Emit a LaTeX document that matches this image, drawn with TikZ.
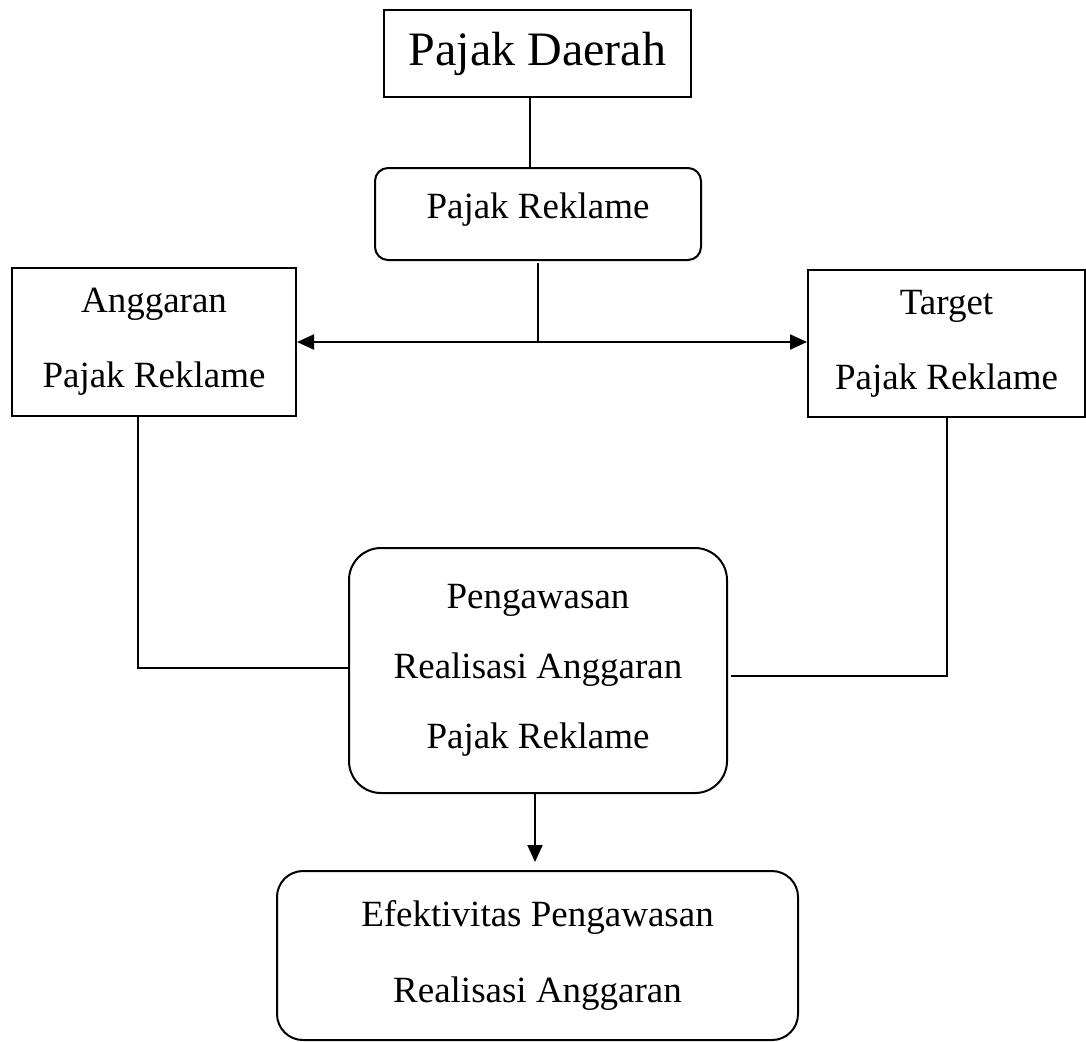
\documentclass[tikz,border=0pt]{standalone}
\usepackage{fontspec}
\setmainfont{Liberation Serif}
\usepackage{tikz}
\usetikzlibrary{arrows.meta}

\begin{document}
\begin{tikzpicture}[x=0.5pt, y=-0.5pt, line width=1pt,
	every node/.style={font=\fontsize{18.5}{37.5}\selectfont, align=center, inner sep=0pt},
	flow/.style={-{Triangle[length=8.5pt, width=7.5pt]}}]
	\useasboundingbox (0,0) rectangle (1086,1041);
	% Nodes
	\node[draw, minimum width=153.5pt, minimum height=43.5pt, font=\fontsize{24}{28}\selectfont] (daerah) at (537.5,53.5) {Pajak Daerah};
	\node[draw, rounded corners=6.5pt, minimum width=163pt, minimum height=46pt, text depth=8pt] (reklame) at (538,214) {Pajak Reklame};
	\node[draw, minimum width=142pt, minimum height=74pt] (anggaran) at (154,342) {Anggaran\\Pajak Reklame};
	\node[draw, minimum width=138.5pt, minimum height=73.5pt] (target) at (946.5,343.5) {Target\\Pajak Reklame};
	\node[draw, rounded corners=16pt, minimum width=189pt, minimum height=122.5pt, font=\fontsize{18.5}{35}\selectfont] (pengawasan) at (538,670.5) {Pengawasan\\Realisasi Anggaran\\Pajak Reklame};
	\node[draw, rounded corners=13pt, minimum width=260.5pt, minimum height=84.5pt, font=\fontsize{18.5}{38}\selectfont] (efektivitas) at (537.5,955.5) {Efektivitas Pengawasan\\Realisasi Anggaran};
	\coordinate (junction) at (reklame.south |- anggaran.east);
	
	% Edges
	\draw ([xshift=-4pt]daerah.south) -- ([xshift=-4pt]daerah.south |- reklame.north);
	\draw ([yshift=-1pt]reklame.south) -- (junction);
	\draw[{Triangle[length=8.5pt, width=7.5pt]}-{Triangle[length=8.5pt, width=7.5pt]}] (anggaran.east) -- (anggaran.east -| target.west);
	\draw ([xshift=-8pt]anggaran.south) |- ([yshift=1.5pt]pengawasan.west);
	\draw (target.south) |- ([xshift=1.5pt, yshift=-2.5pt]pengawasan.east);
	\draw[flow] ([xshift=-1.5pt]pengawasan.south) -- ([xshift=-1.5pt, yshift=4pt]pengawasan.south |- efektivitas.north);
\end{tikzpicture}
\end{document}
